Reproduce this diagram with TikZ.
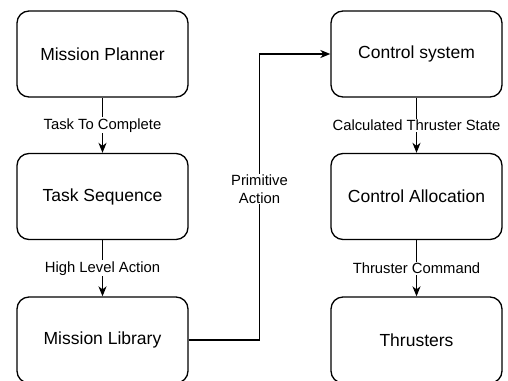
\documentclass[tikz,border=0pt]{standalone}
\usepackage{fontspec}
\setmainfont{Liberation Sans}
\usetikzlibrary{arrows.meta,positioning,calc}

\tikzset{
  blockbox/.style={draw=black, line width=1.3pt, rounded corners=12pt, fill=white,
    minimum width=171pt, minimum height=86pt, inner sep=0pt,
    font=\fontsize{17.5}{21}\selectfont, text=black},
  flow/.style={draw=black, line width=1.3pt,
    -{Stealth[length=10pt, width=8pt, inset=3pt]}},
  edgelabel/.style={fill=white, inner sep=1pt, align=center,
    font=\fontsize{14.8}{18}\selectfont, text=black},
}

\begin{document}
\begin{tikzpicture}[x=1pt, y=-1pt]
  \useasboundingbox (0,0) rectangle (508,380);

  % left column
  \node[blockbox] (mp)   at (102.5, 54)    {Mission Planner};
  \node[blockbox] (ts)   at (102.5, 196.5) {Task Sequence};
  \node[blockbox] (lib)  at (102.5, 340)   {Mission Library};

  % right column
  \node[blockbox] (cs)   at (416.5, 54)    {Control system};
  \node[blockbox] (ca)   at (416.5, 196.5) {Control Allocation};
  \node[blockbox] (thr)  at (416.5, 340)   {Thrusters};

  % vertical flows
  \draw[flow] (mp) -- node[edgelabel, pos=0.5] {Task To Complete} (ts);
  \draw[flow] (ts) -- node[edgelabel, pos=0.5] {High Level Action} (lib);
  \draw[flow] (cs) -- node[edgelabel, pos=0.5] {Calculated Thruster State} (ca);
  \draw[flow] (ca) -- node[edgelabel, pos=0.5] {Thruster Command} (thr);

  % library to control system
  \coordinate (bend) at (259.5, 196.5);
  \draw[flow] (lib.east) -| (bend) |- (cs.west);
  \node[edgelabel] (prim) at (259.5, 189) {Primitive\\Action};
\end{tikzpicture}
\end{document}
